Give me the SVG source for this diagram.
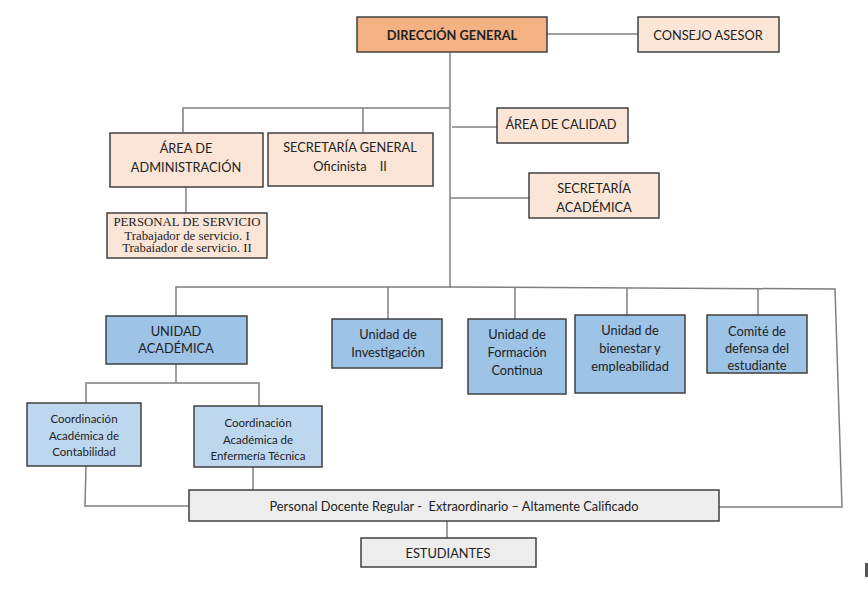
<svg xmlns="http://www.w3.org/2000/svg" width="868" height="594" viewBox="0 0 868 594">
<style>
.b{stroke:#404040;stroke-width:1.5}
.dg{fill:#F4B183}
.pe{fill:#FBE5D6}
.bl{fill:#9DC3E6}
.lb{fill:#BDD7EE}
.gr{fill:#EDEDED}
text{font-family:Lato,"Open Sans","Liberation Sans",sans-serif;font-size:12.8px;fill:#222;text-anchor:middle;dominant-baseline:central}
.t{font-family:"Liberation Serif","DejaVu Serif",serif}
.c{font-size:11.5px}
#conn path{fill:none;stroke:#7F7F7F;stroke-width:1.5}
</style>
<rect width="868" height="594" fill="#fff"/>
<g id="conn">
<path d="M547 34H638"/>
<path d="M450 53V288"/>
<path d="M183 132V108H450"/>
<path d="M363 108V132"/>
<path d="M186 187V213"/>
<path d="M452 127H497"/>
<path d="M450 198H529"/>
<path d="M176 316V287H450L835 289L842 507H719"/>
<path d="M388 287V319"/>
<path d="M515 288V319"/>
<path d="M627 288V315"/>
<path d="M758 289V315"/>
<path d="M176 364V383"/>
<path d="M86 403V383H259V406"/>
<path d="M86 466L85 506H189"/>
<path d="M253 467V490"/>
<path d="M447 521V538"/>
</g>
<g id="direccion-general"><rect class="b dg" x="357" y="17" width="190" height="35"/><text x="452" y="35" font-weight="bold" font-size="14.8">DIRECCIÓN GENERAL</text></g>
<g id="consejo-asesor"><rect class="b pe" x="638" y="17" width="141" height="35"/><text x="708" y="35" font-size="14">CONSEJO ASESOR</text></g>
<g id="area-administracion"><rect class="b pe" x="110" y="133" width="153" height="54"/><text x="186" y="148">ÁREA DE</text><text x="186" y="167">ADMINISTRACIÓN</text></g>
<g id="secretaria-general"><rect class="b pe" x="268" y="133" width="165" height="53"/><text x="350" y="147">SECRETARÍA GENERAL</text><text x="350" y="166" xml:space="preserve">Oficinista    II</text></g>
<g id="personal-servicio"><rect class="b pe" x="107" y="213" width="160" height="45"/><text class="t" x="187" y="222" font-size="12.3">PERSONAL DE SERVICIO</text><text class="t" x="187" y="235.5" font-size="8.4">Trabajador de servicio. I</text><text class="t" x="187" y="248" font-size="8.4">Trabaiador de servicio. II</text></g>
<g id="area-calidad"><rect class="b pe" x="497" y="108" width="131" height="35"/><text x="561" y="124">ÁREA DE CALIDAD</text></g>
<g id="secretaria-academica"><rect class="b pe" x="529" y="173" width="130" height="45"/><text x="594" y="188">SECRETARÍA</text><text x="594" y="207">ACADÉMICA</text></g>
<g id="unidad-academica"><rect class="b bl" x="106" y="316" width="141" height="48"/><text x="176" y="331">UNIDAD</text><text x="176" y="348">ACADÉMICA</text></g>
<g id="unidad-investigacion"><rect class="b bl" x="332" y="319" width="110" height="49"/><text x="388" y="334">Unidad de</text><text x="388" y="352">Investigación</text></g>
<g id="unidad-formacion"><rect class="b bl" x="468" y="319" width="98" height="75"/><text x="517" y="334">Unidad de</text><text x="517" y="352">Formación</text><text x="517" y="370">Continua</text></g>
<g id="unidad-bienestar"><rect class="b bl" x="575" y="315" width="110" height="78"/><text x="630" y="330">Unidad de</text><text x="630" y="348">bienestar y</text><text x="630" y="366">empleabilidad</text></g>
<g id="comite-defensa"><rect class="b bl" x="707" y="315" width="100" height="58"/><text x="757" y="331">Comité de</text><text x="757" y="348">defensa del</text><text x="757" y="365">estudiante</text></g>
<g id="coord-contabilidad"><rect class="b lb" x="27" y="403" width="114" height="63"/><text class="c" x="84" y="418">Coordinación</text><text class="c" x="84" y="435">Académica de</text><text class="c" x="84" y="451">Contabilidad</text></g>
<g id="coord-enfermeria"><rect class="b lb" x="194" y="406" width="128" height="61"/><text class="c" x="258" y="422">Coordinación</text><text class="c" x="258" y="439">Académica de</text><text class="c" x="258" y="455">Enfermería Técnica</text></g>
<g id="personal-docente"><rect class="b gr" x="189" y="490" width="530" height="31"/><text x="454" y="506" font-size="13.4" xml:space="preserve">Personal Docente Regular -  Extraordinario – Altamente Calificado</text></g>
<g id="estudiantes"><rect class="b gr" x="361" y="538" width="175" height="29"/><text x="448" y="553">ESTUDIANTES</text></g>
<rect x="865" y="563" width="3" height="14" fill="#555"/>
</svg>
